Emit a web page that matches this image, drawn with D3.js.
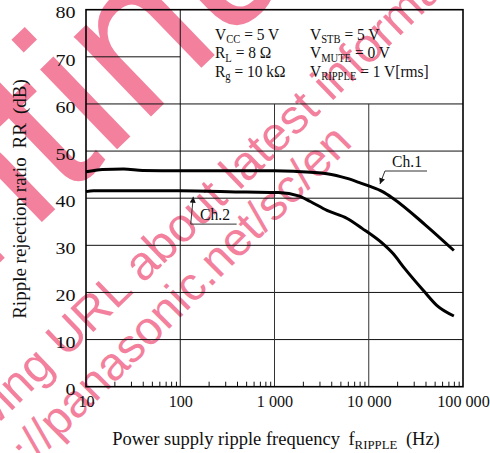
<!DOCTYPE html>
<html><head><meta charset="utf-8">
<script src="https://cdn.jsdelivr.net/npm/d3@7/dist/d3.min.js"></script>
<style>
body{margin:0;background:#fff}
.serif{font-family:"Liberation Serif","Times New Roman",Times,serif;fill:#111}
</style>
</head><body>
<svg id="chart" width="490" height="453"></svg>
<script>
// ---------- data ----------
const ch1Freq = [10, 15, 25, 40, 100, 1000, 1600, 3600, 5900, 8000, 10000, 14000, 18000, 40000, 80000];
const ch1Val  = [45.6, 46.1, 46.2, 45.9, 45.8, 45.8, 45.7, 45.2, 44.2, 43.3, 42.6, 41.4, 40.0, 34.3, 28.9];
const ch2Freq = [10, 12, 100, 500, 1100, 1800, 2400, 3600, 5900, 8500, 14000, 18000, 24000, 38000, 53000, 80000];
const ch2Val  = [41.4, 41.6, 41.6, 41.3, 41.2, 40.5, 39.3, 37.4, 35.7, 33.6, 30.4, 28.3, 25.1, 20.4, 17.2, 15.0];
const yTicks = [0, 10, 20, 30, 40, 50, 60, 70, 80];
const xTicks = [10, 100, 1000, 10000, 100000];
const xTickLabels = ["10", "100", "1 000", "10 000", "100 000"];
const seriesNames = ["Ch.1", "Ch.2"];
const conditionsLeft  = [["V","CC"," = 5 V"], ["R","L"," = 8 Ω"], ["R","g"," = 10 kΩ"]];
const conditionsRight = [["V","STB"," = 5 V"], ["V","MUTE"," = 0 V"], ["V","RIPPLE"," = 1 V[rms]"]];
const watermarkLines = ["Please visit following URL about latest information.", "http://panasonic.net/sc/en", "Discontinued"];

// ---------- layout ----------
const pL = 86, pR = 463, pT = 9.7, pB = 386.7;
const svg = d3.select("#chart");
const x = d3.scaleLog().domain([10, 100000]).range([pL, pR]);
const y = d3.scaleLinear().domain([0, 80]).range([pB, pT]);
const pink = "#f3819d";
const SX = 0.92;

// ---------- watermark (under the chart) ----------
const wm = svg.append("g");
function placeWM(str, anchorIdx, px, py, angle, size) {
  const t = wm.append("text")
    .attr("font-family", "'Liberation Sans', Arial, sans-serif")
    .attr("font-size", size).attr("fill", pink).text(str);
  const off = anchorIdx > 0 ? t.node().getSubStringLength(0, anchorIdx) : 0;
  t.attr("x", -off).attr("y", 0)
   .attr("transform", `translate(${px},${py}) rotate(${angle})`);
}
placeWM(watermarkLines[2], watermarkLines[2].indexOf("inued"), 107, 159, -44, 210);
placeWM(watermarkLines[0], watermarkLines[0].indexOf("about"), 143, 284, -44, 48);
placeWM(watermarkLines[1], watermarkLines[1].indexOf("panasonic"), 58, 440, -45, 47);

// ---------- grid & frame ----------
const g = svg.append("g");
const gridColor = "#111";
[10, 20, 30, 40, 50, 60].forEach(v => {
  g.append("line").attr("x1", pL).attr("x2", pR)
   .attr("y1", y(v)).attr("y2", y(v)).attr("stroke", gridColor).attr("stroke-width", 1);
});
g.append("line").attr("x1", x(10)).attr("x2", x(100))
 .attr("y1", y(70)).attr("y2", y(70)).attr("stroke", gridColor).attr("stroke-width", 1);
g.append("line").attr("x1", x(100)).attr("x2", x(100))
 .attr("y1", y(0)).attr("y2", y(80)).attr("stroke", gridColor).attr("stroke-width", 1);
[1000, 10000].forEach(f => {
  g.append("line").attr("x1", x(f)).attr("x2", x(f))
   .attr("y1", y(0)).attr("y2", y(60)).attr("stroke", "#333").attr("stroke-width", 1);
});
const minor = [];
[10, 100, 1000, 10000].forEach(d => { for (let k = 2; k <= 9; k++) minor.push(d * k); });
const ma = g.append("g").attr("transform", `translate(0,${pB})`)
  .call(d3.axisBottom(x).tickValues(minor).tickSize(-5).tickFormat(""));
ma.select(".domain").remove();
ma.selectAll("line").attr("stroke", "#111").attr("stroke-width", 1);
g.append("rect").attr("x", pL).attr("y", pT).attr("width", pR - pL).attr("height", pB - pT)
 .attr("fill", "none").attr("stroke", "#000").attr("stroke-width", 1.6);

// ---------- axis labels ----------
const xa = svg.append("g").attr("transform", `translate(0,${pB})`)
  .call(d3.axisBottom(x).tickValues(xTicks).tickSize(0).tickFormat((d, i) => xTickLabels[i]));
xa.select(".domain").remove();
xa.selectAll("text").attr("class", "serif").attr("font-size", 17).attr("y", 0).attr("dy", 0).attr("x", 0)
  .attr("transform", `translate(0,20) scale(0.95,1)`).style("text-anchor", "middle");

const ya = svg.append("g").attr("transform", `translate(${pL},0)`)
  .call(d3.axisLeft(y).tickValues(yTicks).tickSize(0).tickFormat(d3.format("d")));
ya.select(".domain").remove();
ya.selectAll("text").attr("class", "serif").attr("font-size", 17).attr("x", 0).attr("dy", 0)
  .attr("transform", `translate(-10.5,8.2) scale(1.18,1)`).style("text-anchor", "end");

const xt = svg.append("text").attr("class", "serif").attr("font-size", 19.5)
  .attr("transform", `translate(276,445) scale(0.95,1)`).attr("text-anchor", "middle");
xt.append("tspan").text("Power supply ripple frequency");
xt.append("tspan").attr("dx", 9).text("f");
xt.append("tspan").attr("font-size", 13.5).attr("dy", 4).text("RIPPLE");
xt.append("tspan").attr("dx", 9).attr("dy", -4).text("(Hz)");

const yt = svg.append("text").attr("class", "serif").attr("font-size", 19)
  .attr("transform", `translate(25.5,199) rotate(-90)`).attr("text-anchor", "middle");
yt.append("tspan").text("Ripple rejection ratio");
yt.append("tspan").attr("dx", 9).text("RR");
yt.append("tspan").attr("dx", 9).text("(dB)");

// ---------- curves ----------
const line = d3.line().x(d => x(d[0])).y(d => y(d[1])).curve(d3.curveMonotoneX);
[[ch1Freq, ch1Val], [ch2Freq, ch2Val]].forEach(([f, v]) => {
  svg.append("path").datum(f.map((ff, i) => [ff, v[i]])).attr("d", line)
    .attr("fill", "none").attr("stroke", "#000").attr("stroke-width", 3)
    .attr("stroke-linejoin", "round");
});

// ---------- annotations ----------
const defs = svg.append("defs");
defs.append("marker").attr("id", "arr").attr("viewBox", "0 0 10 10").attr("refX", 10).attr("refY", 5)
  .attr("markerWidth", 8).attr("markerHeight", 6).attr("orient", "auto").attr("markerUnits", "userSpaceOnUse")
  .append("path").attr("d", "M0,0 L10,5 L0,10 z").attr("fill", "#111");
const leaders = [
  { label: seriesNames[0], text: [17650, 46.7], pts: [[41500, 45.77], [14860, 45.77], [13150, 43.0]] },
  { label: seriesNames[1], text: [162, 35.4], pts: [[397, 34.5], [129, 34.5], [137.5, 40.3]] }
];
leaders.forEach(L => {
  svg.append("path").attr("d", d3.line().x(d => x(d[0])).y(d => y(d[1]))(L.pts))
    .attr("fill", "none").attr("stroke", "#333").attr("stroke-width", 1)
    .attr("marker-end", "url(#arr)");
  svg.append("text").attr("class", "serif").attr("font-size", 17)
    .attr("transform", `translate(${x(L.text[0])},${y(L.text[1])}) scale(${SX},1)`).text(L.label);
});

// ---------- conditions ----------
function rich(parts, fx, dbv) {
  const t = svg.append("text").attr("class", "serif").attr("font-size", 16.8)
    .attr("transform", `translate(${x(fx)},${y(dbv)}) scale(${SX},1)`);
  t.append("tspan").text(parts[0]);
  t.append("tspan").attr("font-size", 11.5).attr("dy", 3.5).text(parts[1]);
  t.append("tspan").attr("dy", -3.5).text(parts[2]);
}
const condRows = [73.6, 69.7, 65.8];
conditionsLeft.forEach((p, i) => rich(p, 234, condRows[i]));
conditionsRight.forEach((p, i) => rich(p, 2380, condRows[i]));
</script>
</body></html>
